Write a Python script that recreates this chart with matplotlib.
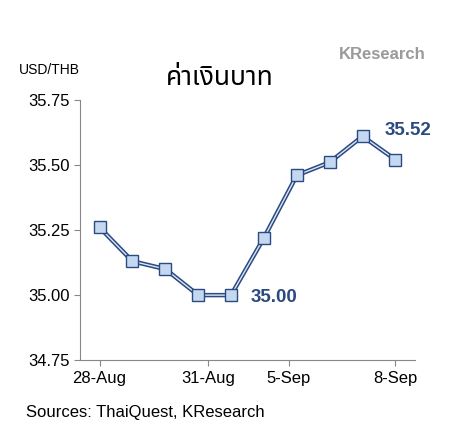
import matplotlib
matplotlib.use("Agg")
import matplotlib.pyplot as plt

dates = ["28-Aug", "29-Aug", "30-Aug", "31-Aug", "1-Sep", "4-Sep", "5-Sep", "6-Sep", "7-Sep", "8-Sep"]
rates = [35.26, 35.13, 35.10, 35.00, 35.00, 35.22, 35.46, 35.51, 35.61, 35.52]
tick_labels = ["28-Aug", "31-Aug", "5-Sep", "8-Sep"]
tick_pos = [0, 3.3, 5.75, 9]

plt.rcParams['font.family'] = ['Liberation Sans', 'DejaVu Sans']

fig = plt.figure(figsize=(4.67, 4.34), dpi=100)
ax = fig.add_axes([0.171, 0.17, 0.718, 0.60])

x = list(range(len(rates)))
ax.plot(x, rates, color="#2b4a80", lw=3.2, zorder=2)
ax.plot(x, rates, color="#dbe6f7", lw=1.0, zorder=3)
ax.plot(x, rates, ls="none", marker="s", ms=8, mfc="#c5d8f2", mec="#2b4a80", mew=1.0, zorder=4)

ax.set_ylim(34.75, 35.75)
ax.set_yticks([34.75, 35.00, 35.25, 35.50, 35.75])
ax.set_yticklabels([f"{v:.2f}" for v in [34.75, 35.00, 35.25, 35.50, 35.75]])
ax.set_xlim(-0.6, 9.6)
ax.set_xticks(tick_pos)
ax.set_xticklabels(tick_labels)
ax.tick_params(labelsize=12, length=4, color="#888888")
for s in ["top", "right"]:
    ax.spines[s].set_visible(False)
for s in ["left", "bottom"]:
    ax.spines[s].set_color("#888888")

ax.annotate(f"{rates[4]:.2f}", (4, rates[4]), xytext=(14, -2), textcoords="offset points",
            color="#2b4a80", fontsize=13.5, fontweight="bold", va="center")
ax.annotate(f"{rates[9]:.2f}", (9, rates[9]), xytext=(-8, 21), textcoords="offset points",
            color="#2b4a80", fontsize=13.5, fontweight="bold", va="center")

fig.text(0.04, 0.83, "USD/THB", fontsize=10)
fig.text(0.47, 0.805, "ค่าเงินบาท", fontsize=19, fontweight="bold", ha="center",
         family=['Noto Sans Thai', 'Loma', 'Garuda', 'Tlwg Typo', 'DejaVu Sans'])
fig.text(0.725, 0.865, "KResearch", fontsize=12, color="#9a9a9a", fontweight="bold")
fig.text(0.055, 0.04, "Sources: ThaiQuest, KResearch", fontsize=12)

fig.savefig("out.png", dpi=100)
